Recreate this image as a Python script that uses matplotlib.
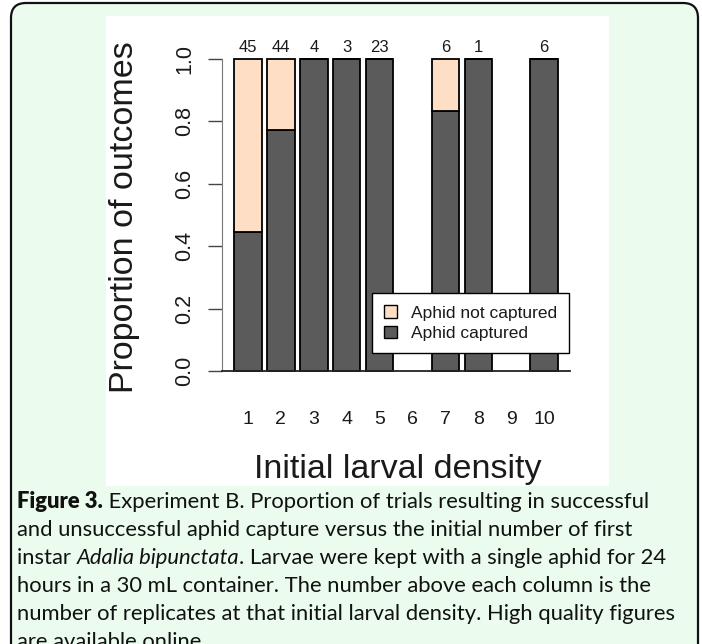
import matplotlib
matplotlib.use('Agg')
import matplotlib.pyplot as plt
from matplotlib.patches import FancyBboxPatch, Rectangle, Patch
import numpy as np

# data
densities = [1, 2, 3, 4, 5, 6, 7, 8, 9, 10]
replicates = [45, 44, 4, 3, 23, 0, 6, 1, 0, 6]
captured = [20, 34, 4, 3, 23, 0, 5, 1, 0, 6]

col_not = '#fedec4'
col_cap = '#5b5b5b'
green = '#ebfcee'

caption = [
    [("Figure 3.", 'normal', 'heavy'), (" Experiment B. Proportion of trials resulting in successful", 'normal', 'normal')],
    [("and unsuccessful aphid capture versus the initial number of first", 'normal', 'normal')],
    [("instar ", 'normal', 'normal'), ("Adalia bipunctata", 'italic', 'normal'),
     (". Larvae were kept with a single aphid for 24", 'normal', 'normal')],
    [("hours in a 30 mL container. The number above each column is the", 'normal', 'normal')],
    [("number of replicates at that initial larval density. High quality figures", 'normal', 'normal')],
    [("are available online.", 'normal', 'normal')],
]

W, H = 702, 644
plt.rcParams['font.family'] = ['Liberation Sans', 'DejaVu Sans']
fig = plt.figure(figsize=(W / 100, H / 100), dpi=100)
fig.patch.set_facecolor('white')

def fx(px):
    return px / W

def fy(py):
    return 1 - py / H

# rounded green frame and white chart panel (inch coords), kept behind the axes
frame = FancyBboxPatch((0.11, -0.56), 6.87, 6.97,
                       boxstyle='round,pad=0,rounding_size=0.15',
                       transform=fig.dpi_scale_trans, fc=green, ec='#111111', lw=1.6,
                       zorder=-10)
fig.patches.append(frame)
panel = Rectangle((1.06, (H - 486) / 100), 5.03, (486 - 16) / 100,
                  transform=fig.dpi_scale_trans, fc='white', ec='none', zorder=-9)
fig.patches.append(panel)

ax = fig.add_axes([fx(210), fy(385), fx(585) - fx(210), (385 - 45) / H])
ax.patch.set_visible(False)

n = np.array(replicates, dtype=float)
c = np.array(captured, dtype=float)
with np.errstate(invalid='ignore', divide='ignore'):
    p_cap = np.where(n > 0, c / n, np.nan)
p_not = 1 - p_cap
x = np.array(densities)
has = n > 0

ax.bar(x[has], p_cap[has], width=0.836, color=col_cap, edgecolor='black', lw=1.3, zorder=2)
ax.bar(x[has], p_not[has], bottom=p_cap[has], width=0.836, color=col_not,
       edgecolor='black', lw=1.3, zorder=2)

ax.set_xlim(1 + (210 - 248) / 32.9, 1 + (585 - 248) / 32.9)
ax.set_ylim((371 - 385) / 312, (371 - 45) / 312)

x_axis = 1 + (222 - 248) / 32.9
for s in ['top', 'right', 'bottom']:
    ax.spines[s].set_visible(False)
ax.spines['left'].set_position(('data', x_axis))
ax.spines['left'].set_bounds(0, 1)
ax.spines['left'].set_color('#777777')
ax.plot([x_axis, 1 + (570 - 248) / 32.9], [0, 0], color='#222222', lw=1.3,
        clip_on=False, zorder=3)

ax.set_yticks([0, 0.2, 0.4, 0.6, 0.8, 1.0])
ax.set_yticklabels(['0.0', '0.2', '0.4', '0.6', '0.8', '1.0'], rotation=90,
                   va='center', fontsize=15.5, color='#1a1a1a')
ax.tick_params(axis='y', length=10, width=1.0, color='#444444', pad=9)
ax.set_xticks([])

for xi, ni in zip(densities, replicates):
    ax.text(xi, (371 - 424) / 312, str(xi), ha='center', va='baseline',
            fontsize=14, color='#1a1a1a', clip_on=False)
    if ni > 0:
        ax.text(xi, (371 - 52) / 312, str(ni), ha='center', va='baseline',
                fontsize=12, color='#1a1a1a', clip_on=False)

fig.text(fx(133), fy(217.5), 'Proportion of outcomes', rotation=90,
         rotation_mode='anchor', ha='center', va='baseline', fontsize=24.5, color='#1a1a1a')
fig.text(fx(397.5), fy(477.7), 'Initial larval density', ha='center', va='baseline',
         fontsize=24.5, color='#1a1a1a')

handles = [Patch(fc=col_not, ec='black', lw=1.0, label='Aphid not captured'),
           Patch(fc=col_cap, ec='black', lw=1.0, label='Aphid captured')]
leg = fig.legend(handles=handles, loc='upper right', bbox_to_anchor=(fx(569), fy(293)),
                 bbox_transform=fig.transFigure, fontsize=12.5, frameon=True,
                 fancybox=False, framealpha=1, borderpad=0.7, handlelength=0.75,
                 handleheight=0.75, handletextpad=0.8, labelspacing=0.3, borderaxespad=0)
leg.get_frame().set_edgecolor('black')
leg.get_frame().set_linewidth(1.0)
leg.set_zorder(10)
for t in leg.get_texts():
    t.set_color('#1a1a1a')

# caption, sized so the widest line fits the reference text width
renderer = fig.canvas.get_renderer()
cap_family = ['Lato', 'DejaVu Sans']

def line_width(parts, size):
    total = 0
    for s, style, weight in parts:
        t = fig.text(0, 0, s, fontsize=size, family=cap_family, style=style, weight=weight)
        total += t.get_window_extent(renderer).width
        t.remove()
    return total

widest = max(line_width(p, 14) for p in caption)
cap_size = 14 * 661 / widest
baselines = [508, 536, 564, 592, 620, 648]
for parts, base in zip(caption, baselines):
    xpix = 17
    for s, style, weight in parts:
        t = fig.text(fx(xpix), fy(base), s, fontsize=cap_size, family=cap_family,
                     style=style, weight=weight, va='baseline', ha='left', color='#111111')
        xpix += t.get_window_extent(renderer).width

fig.savefig('out.png', dpi=100)
